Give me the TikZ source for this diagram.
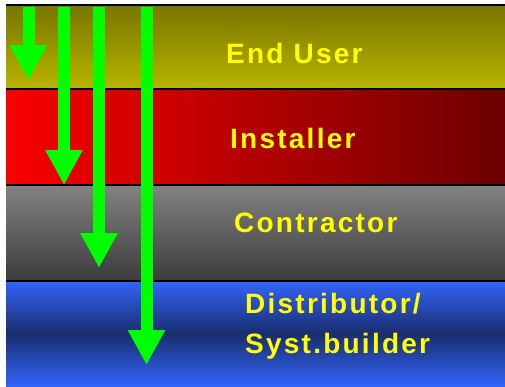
\documentclass[tikz,border=0pt]{standalone}
\usepackage{fontspec}
\usepackage{xcolor}
\newfontfamily\bandfont{Liberation Sans}[LetterSpace=8]
\usetikzlibrary{arrows.meta, positioning, calc}
\definecolor{oliveTop}{RGB}{120,118,0}
\definecolor{oliveBottom}{RGB}{185,180,0}
\definecolor{redLeft}{RGB}{250,0,0}
\definecolor{redRight}{RGB}{108,0,0}
\definecolor{grayTop}{RGB}{130,130,130}
\definecolor{grayBottom}{RGB}{60,60,60}
\definecolor{blueEdge}{RGB}{50,100,250}
\definecolor{blueMid}{RGB}{25,45,110}
\definecolor{flowGreen}{RGB}{0,255,0}
\definecolor{labelYellow}{RGB}{255,255,0}
\pgfdeclareverticalshading{bluebar}{100bp}{color(0bp)=(blueEdge); color(25bp)=(blueEdge); color(50bp)=(blueMid); color(75bp)=(blueEdge); color(100bp)=(blueEdge)}
\tikzset{
  band/.style={minimum width=499pt, inner sep=0pt, outer sep=0pt, anchor=north west},
  bandlabel/.style={text=labelYellow, font=\bandfont\bfseries\fontsize{28pt}{40pt}\selectfont, anchor=base west, inner sep=0pt, align=left},
  sepline/.style={line width=2pt, black},
  flow/.style={draw=flowGreen, line width=12pt, -{Triangle[length=35pt,width=35pt]}}
}

\begin{document}
\begin{tikzpicture}[x=1pt,y=-1pt]
  \useasboundingbox[fill=white] (0,0) rectangle (505,386);

  % the four layers
  \node[band, minimum height=84pt, top color=oliveTop, bottom color=oliveBottom] (enduser) at (6,5) {};
  \node[band, minimum height=96pt, left color=redLeft, right color=redRight, below=0pt of enduser] (installer) {};
  \node[band, minimum height=96pt, top color=grayTop, bottom color=grayBottom, below=0pt of installer] (contractor) {};
  \node[band, minimum height=105pt, shading=bluebar, below=0pt of contractor] (distributor) {};

  \draw[sepline] (enduser.north west) -- (enduser.north east);
  \draw[sepline] (installer.north west) -- (installer.north east);
  \draw[sepline] (contractor.north west) -- (contractor.north east);
  \draw[sepline] (distributor.north west) -- (distributor.north east);

  % labels
  \node[bandlabel] (lenduser) at (226,63) {End User};
  \node[bandlabel] (linstaller) at (230,148) {Installer};
  \node[bandlabel] (lcontractor) at (234,232) {Contractor};
  \node[bandlabel] (ldistributor) at (245,353) {Distributor/\\Syst.builder};

  % flows down
  \foreach \i/\x/\y in {1/28.5/80, 2/64/185, 3/99/268, 4/146.5/365} {
    \coordinate (s\i) at (\x,7);
    \coordinate (e\i) at (\x,\y);
    \draw[flow] (s\i) -- (e\i);
  }
\end{tikzpicture}
\end{document}
